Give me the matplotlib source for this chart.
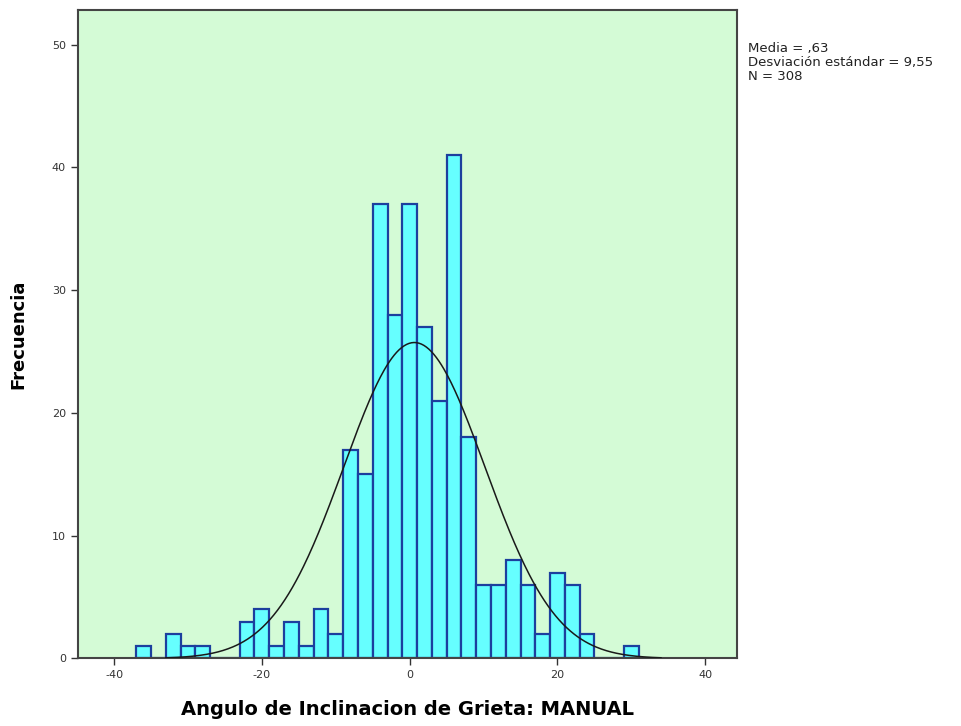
import numpy as np
import matplotlib
matplotlib.use("Agg")
import matplotlib.pyplot as plt

plt.rcParams['axes.unicode_minus'] = False

# histogram bins (width 2, centred on even values) and counts
bin_left = [-37, -35, -33, -31, -29, -27, -25, -23, -21, -19, -17, -15, -13, -11,
            -9, -7, -5, -3, -1, 1, 3, 5, 7, 9, 11, 13, 15, 17, 19, 21, 23, 25, 27, 29]
counts = [1, 0, 2, 1, 1, 0, 0, 3, 4, 1, 3, 1, 4, 2,
          17, 15, 37, 28, 37, 27, 21, 41, 18, 6, 6, 8, 6, 2, 7, 6, 2, 0, 0, 1]
bin_width = 2.0

media = 0.63
desv = 9.55
n = 308

xticks = [-40, -20, 0, 20, 40]
yticks = [0, 10, 20, 30, 40, 50]

fig = plt.figure(figsize=(9.61, 7.26), dpi=100)
ax = fig.add_axes([0.081, 0.093, 0.686, 0.893])
ax.set_facecolor('#d4fbd6')

ax.bar(bin_left, counts, width=bin_width, align='edge',
       color='#66ffff', edgecolor='#1c3f9e', linewidth=1.6, zorder=2)

# normal curve from the summary statistics
xs = np.linspace(-33, 34, 400)
ys = n * bin_width / (desv * np.sqrt(2 * np.pi)) * np.exp(-0.5 * ((xs - media) / desv) ** 2)
ax.plot(xs, ys, color='#1a1a1a', lw=1.1, zorder=3)

ax.set_xlim(-44.9, 44.3)
ax.set_ylim(0, 52.8)
ax.set_xticks(xticks)
ax.set_yticks(yticks)
ax.tick_params(axis='both', labelsize=8, labelcolor='#333333', color='#333333',
               length=5, width=1)
for s in ax.spines.values():
    s.set_color('#444444')
    s.set_linewidth(1.5)

ax.set_xlabel('Angulo de Inclinacion de Grieta: MANUAL', fontsize=14,
              fontweight='bold', labelpad=14)
ax.set_ylabel('Frecuencia', fontsize=13, fontweight='bold', labelpad=18)

fig.text(0.778, 0.942, 'Media = ,63\nDesviación estándar = 9,55\nN = 308',
         fontsize=9.5, va='top', ha='left', linespacing=1.1, color='#222222')

fig.savefig('out.png', dpi=100)
